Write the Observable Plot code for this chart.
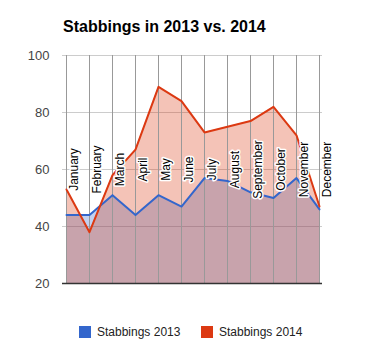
<!DOCTYPE html>
<html>
<head>
<meta charset="utf-8">
<script src="https://cdn.jsdelivr.net/npm/d3@7"></script>
<script src="https://cdn.jsdelivr.net/npm/@observablehq/plot@0.6"></script>
<style>
  body { margin: 0; background: #fff; font-family: "Liberation Sans", Arial, sans-serif; }
  #wrap { width: 388px; height: 361px; position: relative; overflow: hidden; }
  #title { height: 45px; position: relative; }
  #title span { position: absolute; left: 63px; top: 18px; font-size: 16px; font-weight: bold; color: #000; }
  #legend { position: relative; height: 60px; font-size: 12px; color: #222; }
  .item { position: absolute; top: 32px; display: flex; align-items: center; }
  .sw { width: 12px; height: 12px; margin-right: 6px; }
</style>
</head>
<body>
<div id="wrap">
  <div id="title"><span>Stabbings in 2013 vs. 2014</span></div>
  <div id="chart"></div>
  <div id="legend"></div>
</div>
<script>
const months = ["January","February","March","April","May","June","July","August","September","October","November","December"];
const stab2013 = [44, 44, 51, 44, 51, 47, 57, 56, 52, 50, 57, 46];
const stab2014 = [53, 38, 58, 67, 89, 84, 73, 75, 77, 82, 72, 47];
const yTicks = [20, 40, 60, 80, 100];
const seriesNames = ["Stabbings 2013", "Stabbings 2014"];
const colors = ["#3366CC", "#DC3912"];

const d13 = months.map((m, i) => ({month: m, value: stab2013[i]}));
const d14 = months.map((m, i) => ({month: m, value: stab2014[i]}));

const chart = Plot.plot({
  width: 388,
  height: 248,
  marginLeft: 62,
  marginRight: 66,
  marginTop: 10,
  marginBottom: 10,
  style: {fontFamily: "Liberation Sans, Arial, sans-serif", fontSize: "13px", background: "#fff"},
  x: {type: "point", domain: months, padding: 0, axis: null},
  y: {domain: [20, 100], ticks: yTicks, axis: null},
  marks: [
    Plot.ruleY(yTicks, {stroke: "#cccccc", strokeWidth: 1}),
    Plot.areaY(d13, {x: "month", y1: 20, y2: "value", fill: colors[0], fillOpacity: 0.3}),
    Plot.areaY(d14, {x: "month", y1: 20, y2: "value", fill: colors[1], fillOpacity: 0.3}),
    Plot.ruleX(months, {stroke: "#999999", strokeWidth: 1}),
    Plot.line(d13, {x: "month", y: "value", stroke: colors[0], strokeWidth: 2}),
    Plot.line(d14, {x: "month", y: "value", stroke: colors[1], strokeWidth: 2}),
    Plot.ruleY([20], {stroke: "#333333", strokeWidth: 1.5}),
    Plot.text(months, {x: d => d, y: 60, text: d => d, rotate: -90, dx: 8, textAnchor: "middle", fill: "#000", stroke: "#fff", strokeWidth: 3, fontSize: 12}),
    Plot.axisY(yTicks, {tickSize: 0, tickPadding: 13, fontSize: 13, fill: "#444", label: null})
  ]
});
document.getElementById("chart").appendChild(chart);

const legend = document.getElementById("legend");
const lefts = [79, 201];
seriesNames.forEach((n, i) => {
  const it = document.createElement("div");
  it.className = "item";
  it.style.left = lefts[i] + "px";
  it.innerHTML = `<div class="sw" style="background:${colors[i]}"></div><span>${n}</span>`;
  legend.appendChild(it);
});
</script>
</body>
</html>
